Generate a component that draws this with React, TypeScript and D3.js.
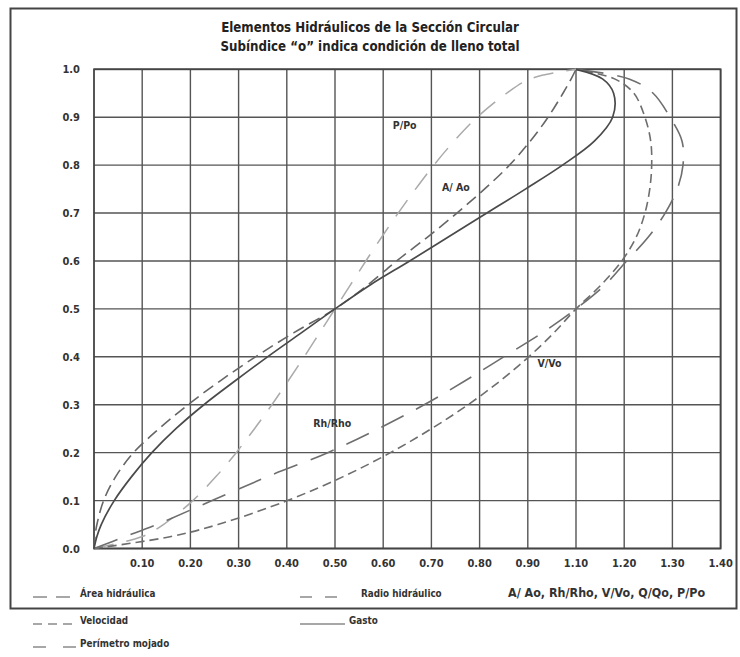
import React from "react";
import * as d3 from "d3";

// ---- data (ratio vs relative depth d/D) ----
const DEPTH = [0, 0.025, 0.05, 0.1, 0.15, 0.2, 0.25, 0.3, 0.35, 0.4, 0.45, 0.5, 0.55, 0.6, 0.65, 0.7, 0.75, 0.8, 0.85, 0.9, 0.95, 0.98, 1.0];
const AREA = [0, 0.002, 0.006, 0.02, 0.045, 0.082, 0.135, 0.195, 0.262, 0.335, 0.414, 0.5, 0.568, 0.628, 0.692, 0.753, 0.81, 0.862, 0.905, 0.942, 0.973, 0.99, 1.0];
const GASTO = [0, 0.006, 0.015, 0.042, 0.078, 0.12, 0.17, 0.228, 0.293, 0.36, 0.43, 0.5, 0.573, 0.655, 0.735, 0.815, 0.895, 0.972, 1.038, 1.076, 1.078, 1.055, 1.0];
const PERIMETRO = [0, 0.1, 0.144, 0.205, 0.253, 0.295, 0.333, 0.369, 0.403, 0.436, 0.468, 0.5, 0.532, 0.564, 0.597, 0.631, 0.667, 0.705, 0.747, 0.795, 0.856, 0.905, 1.0];
const RADIO = [0, 0.065, 0.13, 0.245, 0.36, 0.485, 0.59, 0.685, 0.77, 0.85, 0.93, 1.0, 1.06, 1.105, 1.15, 1.185, 1.21, 1.222, 1.22, 1.195, 1.16, 1.11, 1.0];
const VELOCIDAD = [0, 0.16, 0.257, 0.401, 0.517, 0.615, 0.7, 0.776, 0.843, 0.902, 0.954, 1.0, 1.052, 1.095, 1.125, 1.143, 1.153, 1.157, 1.155, 1.143, 1.12, 1.08, 1.0];

const X_TICKS = [0.1, 0.2, 0.3, 0.4, 0.5, 0.6, 0.7, 0.8, 0.9, 1.0, 1.1, 1.2, 1.3];
const X_TICK_LABELS = ["0.10", "0.20", "0.30", "0.40", "0.50", "0.60", "0.70", "0.80", "0.90", "1.10", "1.20", "1.30", "1.40"];
const Y_TICKS = [0, 0.1, 0.2, 0.3, 0.4, 0.5, 0.6, 0.7, 0.8, 0.9, 1.0];
const Y_TICK_LABELS = ["0.0", "0.1", "0.2", "0.3", "0.4", "0.5", "0.6", "0.7", "0.8", "0.9", "1.0"];

const TITLE_LINES = ["Elementos Hidráulicos de la Sección Circular", "Subíndice \u201co\u201d indica condición de lleno total"];

const FONT = "'DejaVu Sans Condensed', 'Liberation Sans Narrow', 'Open Sans', sans-serif";

export default function App() {
  const W = 740, H = 657;
  const x = d3.scaleLinear().domain([0, 1.3]).range([94, 720.6]);
  const y = d3.scaleLinear().domain([0, 1]).range([548.5, 69.3]);

  const line = d3
    .line<number>()
    .x((v) => x(v))
    .y((_, i) => y(DEPTH[i]))
    .curve(d3.curveCatmullRom.alpha(0.5));

  const series = [
    { vals: PERIMETRO, stroke: "#aaaaaa", dash: "20 13", w: 1.5 },
    { vals: RADIO, stroke: "#6e6e6e", dash: "25 14", w: 1.6 },
    { vals: VELOCIDAD, stroke: "#6e6e6e", dash: "9 5", w: 1.6 },
    { vals: AREA, stroke: "#666666", dash: "12 6", w: 1.6 },
    { vals: GASTO, stroke: "#4a4a4a", dash: null, w: 1.7 },
  ];

  const curveLabels = [
    { text: "P/Po", ratio: 0.62, depth: 0.875 },
    { text: "A/ Ao", ratio: 0.722, depth: 0.745 },
    { text: "V/Vo", ratio: 0.92, depth: 0.378 },
    { text: "Rh/Rho", ratio: 0.455, depth: 0.254 },
  ];

  const legend = [
    { text: "Área hidráulica", lx: 33, ly: 593, dash: "14 9", len: 43, tx: 80 },
    { text: "Velocidad", lx: 33, ly: 620, dash: "9 6", len: 43, tx: 80 },
    { text: "Perímetro mojado", lx: 33, ly: 643, dash: "13 17", len: 43, tx: 80 },
    { text: "Radio hidráulico", lx: 300, ly: 593, dash: "12 13", len: 46, tx: 361 },
    { text: "Gasto", lx: 300, ly: 620, dash: null, len: 45, tx: 349 },
  ];

  return (
    <div style={{ position: "absolute", left: 0, top: 0 }}>
      <svg width={W} height={H} style={{ display: "block", background: "#fff" }} fontFamily={FONT}>
        <rect x={0} y={0} width={W} height={H} fill="#fff" />
        {/* outer frame */}
        <rect x={10.5} y={8.5} width={726} height={600} fill="none" stroke="#444" strokeWidth={2} />

        {/* title */}
        {TITLE_LINES.map((t, i) => (
          <text key={t} x={370} y={32 + i * 19} textAnchor="middle" fontSize={13.2} fontWeight={700} fill="#222">
            {t}
          </text>
        ))}

        {/* grid */}
        {X_TICKS.map((v) => (
          <line key={"gx" + v} x1={x(v)} x2={x(v)} y1={y(0)} y2={y(1)} stroke="#555" strokeWidth={1.4} />
        ))}
        {Y_TICKS.map((v) => (
          <line key={"gy" + v} x1={x(0)} x2={x(1.3)} y1={y(v)} y2={y(v)} stroke="#555" strokeWidth={1.4} />
        ))}
        <rect x={x(0)} y={y(1)} width={x(1.3) - x(0)} height={y(0) - y(1)} fill="none" stroke="#444" strokeWidth={1.8} />

        {/* tick labels */}
        {X_TICKS.map((v, i) => (
          <text key={"tx" + v} x={x(v)} y={567} textAnchor="middle" fontSize={11} fontWeight={700} fill="#333">
            {X_TICK_LABELS[i]}
          </text>
        ))}
        {Y_TICKS.map((v, i) => (
          <text key={"ty" + v} x={80} y={y(v) + 4} textAnchor="end" fontSize={11} fontWeight={700} fill="#333">
            {Y_TICK_LABELS[i]}
          </text>
        ))}

        {/* curves */}
        {series.map((s, i) => (
          <path
            key={"s" + i}
            d={line(s.vals) || ""}
            fill="none"
            stroke={s.stroke}
            strokeWidth={s.w}
            strokeDasharray={s.dash || undefined}
          />
        ))}

        {/* curve labels */}
        {curveLabels.map((c) => (
          <text key={c.text} x={x(c.ratio)} y={y(c.depth)} fontSize={10.5} fontWeight={700} fill="#333">
            {c.text}
          </text>
        ))}

        {/* legend */}
        {legend.map((l) => (
          <g key={l.text}>
            <line
              x1={l.lx}
              x2={l.lx + l.len}
              y1={l.ly + 4}
              y2={l.ly + 4}
              stroke="#8a8a8a"
              strokeWidth={1.5}
              strokeDasharray={l.dash || undefined}
            />
            <text x={l.tx} y={l.ly + 4} fontSize={9.8} fontWeight={700} fill="#333">
              {l.text}
            </text>
          </g>
        ))}
        <text x={508} y={597} fontSize={12.4} fontWeight={700} fill="#333">
          A/ Ao, Rh/Rho, V/Vo, Q/Qo, P/Po
        </text>
      </svg>
    </div>
  );
}
